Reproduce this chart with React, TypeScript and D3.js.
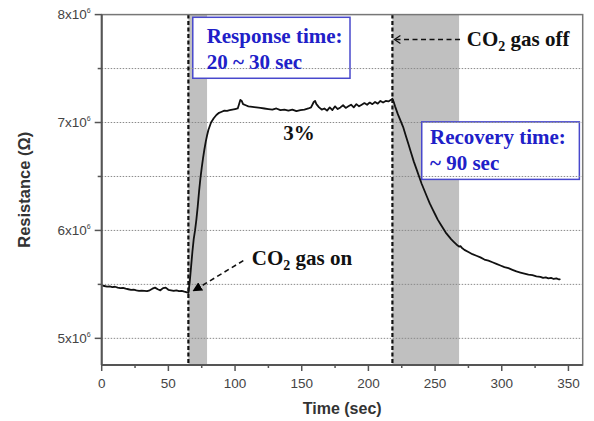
import { useMemo } from "react";
import * as d3 from "d3";

const WIDTH = 594;
const HEIGHT = 421;
const MARGIN = { top: 14.6, right: 11.3, bottom: 56, left: 101.7 };

// time (sec) and resistance (in units of 10^6 ohm)
const timeBase = [0, 2, 4, 6, 8, 10, 12, 14, 16, 18, 20, 22, 24, 26, 28, 30, 32, 34, 36, 38, 40, 42, 44, 46, 48, 50, 52, 54, 56, 58, 60, 62, 64];
const resBase = [5.49, 5.485, 5.48, 5.482, 5.475, 5.478, 5.47, 5.465, 5.468, 5.46, 5.455, 5.45, 5.452, 5.445, 5.44, 5.442, 5.44, 5.438, 5.445, 5.46, 5.47, 5.455, 5.445, 5.465, 5.47, 5.45, 5.445, 5.44, 5.445, 5.438, 5.44, 5.432, 5.425];

const timeOn = [65, 66, 67, 68, 69, 70, 71, 72, 73, 74, 75, 76, 77, 78, 79, 80, 82, 84, 86, 88, 90, 92, 94, 96, 98, 100, 102, 103, 104, 105, 106, 108, 110, 113, 116, 119, 122, 125, 128, 131, 134, 137, 140, 143, 146, 149, 152, 155, 157, 159, 160, 161, 163, 165, 167, 169, 171, 173, 175, 177, 179, 181, 183, 185, 187, 189, 191, 193, 195, 197, 199, 201, 203, 205, 207, 209, 211, 213, 215, 217, 218];
const resOn = [5.42, 5.52, 5.66, 5.8, 5.92, 6.0, 6.1, 6.22, 6.36, 6.48, 6.58, 6.67, 6.75, 6.82, 6.88, 6.93, 7.0, 7.04, 7.07, 7.09, 7.1, 7.11, 7.108, 7.115, 7.12, 7.125, 7.13, 7.17, 7.21, 7.2, 7.17, 7.16, 7.15, 7.145, 7.14, 7.135, 7.13, 7.125, 7.12, 7.13, 7.115, 7.12, 7.11, 7.12, 7.105, 7.115, 7.12, 7.13, 7.14, 7.19, 7.2, 7.17, 7.14, 7.12, 7.13, 7.11, 7.14, 7.115, 7.15, 7.125, 7.14, 7.16, 7.135, 7.15, 7.165, 7.14, 7.17, 7.15, 7.165, 7.18, 7.165, 7.185, 7.17, 7.19, 7.175, 7.2, 7.185, 7.2, 7.195, 7.21, 7.22];

const timeOff = [219, 220, 222, 224, 226, 228, 230, 232, 234, 236, 238, 240, 242, 244, 246, 248, 250, 252, 254, 256, 258, 260, 262, 264, 266, 268, 269, 270, 272, 275, 278, 281, 284, 287, 290, 293, 296, 299, 302, 305, 308, 311, 314, 317, 320, 323, 326, 329, 331, 333, 335, 337, 339, 341, 343, 344];
const resOff = [7.19, 7.15, 7.08, 7.02, 6.96, 6.88, 6.8, 6.72, 6.64, 6.57, 6.5, 6.43, 6.37, 6.31, 6.25, 6.2, 6.15, 6.1, 6.06, 6.02, 5.98, 5.95, 5.92, 5.895, 5.87, 5.85, 5.855, 5.84, 5.82, 5.8, 5.78, 5.765, 5.75, 5.73, 5.72, 5.705, 5.69, 5.675, 5.66, 5.65, 5.635, 5.62, 5.61, 5.6, 5.59, 5.585, 5.575, 5.57, 5.56, 5.565, 5.555, 5.56, 5.55, 5.555, 5.545, 5.55];

const xTicks = [0, 50, 100, 150, 200, 250, 300, 350];
const xMinorTicks = [25, 75, 125, 175, 225, 275, 325];
const yTicks = [5, 6, 7, 8];
const yMinorTicks = [5.5, 6.5, 7.5];
const gridLines = [5, 5.5, 6, 6.5, 7, 7.5];

const gasOn = 65;
const gasOff = 218;
const responseBand = [65, 79];
const recoveryBand = [218, 268];

const SERIF = "'Liberation Serif', 'Times New Roman', serif";
const SANS = "'Liberation Sans', Arial, sans-serif";
const BLUE = "#2020c8";

export default function App() {
  const boundsWidth = WIDTH - MARGIN.left - MARGIN.right;
  const boundsHeight = HEIGHT - MARGIN.top - MARGIN.bottom;

  const xScale = useMemo(() => d3.scaleLinear().domain([0, 360.7]).range([0, boundsWidth]), [boundsWidth]);
  const yScale = useMemo(() => d3.scaleLinear().domain([4.753, 8]).range([boundsHeight, 0]), [boundsHeight]);

  const points: [number, number][] = [
    ...timeBase.map((t, i) => [t, resBase[i]] as [number, number]),
    ...timeOn.map((t, i) => [t, resOn[i]] as [number, number]),
    ...timeOff.map((t, i) => [t, resOff[i]] as [number, number]),
  ];
  const linePath = d3
    .line<[number, number]>()
    .x((d) => xScale(d[0]))
    .y((d) => yScale(d[1]))(points);

  const x = xScale;
  const y = yScale;

  return (
    <svg width={WIDTH} height={HEIGHT} style={{ position: "absolute", left: 0, top: 0, background: "#fff" }}>
      <defs>
        <marker id="tri" viewBox="0 0 10 10" refX="9" refY="5" markerWidth="6" markerHeight="6" orient="auto">
          <path d="M0,0 L10,5 L0,10 z" fill="#000" />
        </marker>
      </defs>
      <g transform={`translate(${MARGIN.left},${MARGIN.top})`}>
        {/* shaded response / recovery windows */}
        <rect x={x(responseBand[0])} y={0} width={x(responseBand[1]) - x(responseBand[0])} height={boundsHeight} fill="#c0c0c0" />
        <rect x={x(recoveryBand[0])} y={0} width={x(recoveryBand[1]) - x(recoveryBand[0])} height={boundsHeight} fill="#c0c0c0" />

        {/* annotation boxes */}
        <rect x={x(68.3)} y={y(7.975)} width={x(186.2) - x(68.3)} height={y(7.41) - y(7.975)} fill="#fff" stroke="#4848cc" strokeWidth={1.5} />
        <rect x={x(240)} y={y(7.006)} width={x(358.2) - x(240)} height={y(6.473) - y(7.006)} fill="#fff" stroke="#4848cc" strokeWidth={1.5} />

        {/* grid */}
        {gridLines.map((g) => (
          <line key={g} x1={0} x2={boundsWidth} y1={y(g)} y2={y(g)} stroke="#8a8a8a" strokeWidth={1} strokeDasharray="1.5,1.5" />
        ))}

        {/* gas on / off markers */}
        {[gasOn, gasOff].map((t) => (
          <line key={t} x1={x(t)} x2={x(t)} y1={0} y2={boundsHeight} stroke="#111" strokeWidth={2.2} strokeDasharray="4,2.5" />
        ))}

        <path d={linePath ?? ""} fill="none" stroke="#111" strokeWidth={1.8} strokeLinejoin="round" />

        {/* frame and axes */}
        <rect x={0} y={0} width={boundsWidth} height={boundsHeight} fill="none" stroke="#777" strokeWidth={1.5} />
        <line x1={0} x2={0} y1={0} y2={boundsHeight} stroke="#555" strokeWidth={2} />
        <line x1={0} x2={boundsWidth} y1={boundsHeight} y2={boundsHeight} stroke="#555" strokeWidth={2} />

        {xTicks.map((t) => (
          <g key={t} transform={`translate(${x(t)},${boundsHeight})`}>
            <line y1={0} y2={6} stroke="#555" strokeWidth={1.5} />
            <text y={22.5} textAnchor="middle" fontFamily={SANS} fontSize={13.5} fill="#444">{t}</text>
          </g>
        ))}
        {xMinorTicks.map((t) => (
          <line key={t} x1={x(t)} x2={x(t)} y1={boundsHeight} y2={boundsHeight + 3} stroke="#555" strokeWidth={1.5} />
        ))}
        {yTicks.map((t) => (
          <g key={t} transform={`translate(0,${y(t)})`}>
            <line x1={-7} x2={0} stroke="#555" strokeWidth={1.5} />
            <text x={-11} y={4.5} textAnchor="end" fontFamily={SANS} fontSize={13.5} fill="#444">
              {`${t}x10`}
              <tspan fontSize={7} dy={-6}>6</tspan>
            </text>
          </g>
        ))}
        {yMinorTicks.map((t) => (
          <line key={t} x1={-4} x2={0} y1={y(t)} y2={y(t)} stroke="#555" strokeWidth={1.5} />
        ))}

        <text x={boundsWidth / 2} y={boundsHeight + 49} textAnchor="middle" fontFamily={SANS} fontWeight="bold" fontSize={16} fill="#333">Time (sec)</text>
        <text transform={`translate(${-72},${boundsHeight / 2}) rotate(-90)`} textAnchor="middle" fontFamily={SANS} fontWeight="bold" fontSize={16.5} fill="#333">Resistance (Ω)</text>

        {/* annotations */}
        <g fontFamily={SERIF} fontWeight="bold" fontSize={21} fill={BLUE}>
          <text x={x(78.7)} y={y(7.733)}>Response time:</text>
          <text x={x(78.7)} y={y(7.495)}>20 ~ 30 sec</text>
          <text x={x(246.2)} y={y(6.805)}>Recovery time:</text>
          <text x={x(246.2)} y={y(6.557)}>~ 90 sec</text>
        </g>
        <g fontFamily={SERIF} fontWeight="bold" fontSize={21} fill="#111">
          <text x={x(136.2)} y={y(6.836)}>3%</text>
          <text x={x(273.8)} y={y(7.708)}>
            CO<tspan fontSize={14} dy={5}>2</tspan>
            <tspan dy={-5}> gas off</tspan>
          </text>
          <text x={x(112.5)} y={y(5.675)}>
            CO<tspan fontSize={14} dy={5}>2</tspan>
            <tspan dy={-5}> gas on</tspan>
          </text>
        </g>
        <line x1={x(268.7)} y1={y(7.769)} x2={x(gasOff) + 2} y2={y(7.769)} stroke="#111" strokeWidth={1.5} strokeDasharray="5,3.5" />
        <polyline points={`${x(gasOff) + 8},${y(7.769) - 4} ${x(gasOff) + 2},${y(7.769)} ${x(gasOff) + 8},${y(7.769) + 4}`} fill="none" stroke="#111" strokeWidth={1.2} />
        <line x1={x(106.2)} y1={y(5.72)} x2={x(68.7)} y2={y(5.44)} stroke="#111" strokeWidth={1.6} strokeDasharray="5,3.5" markerEnd="url(#tri)" />
      </g>
    </svg>
  );
}
